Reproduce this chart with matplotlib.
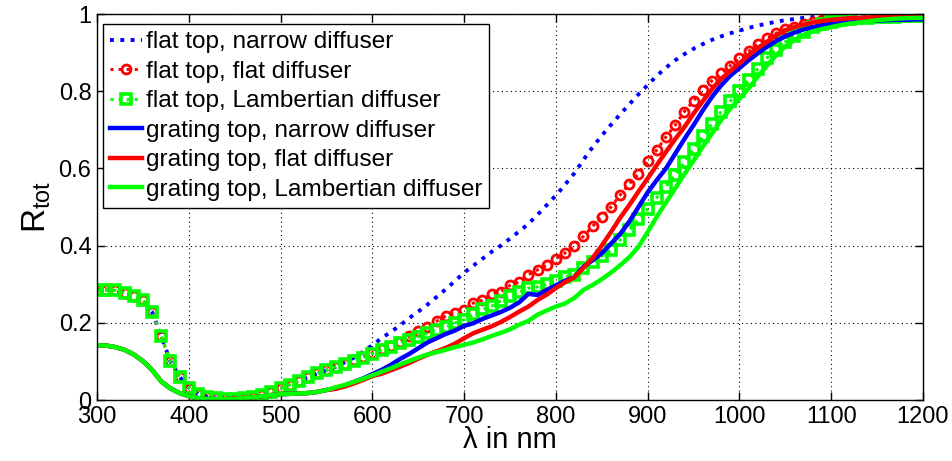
import numpy as np
import matplotlib
matplotlib.use("Agg")
import matplotlib.pyplot as plt

plt.rcParams["font.family"] = ["Liberation Sans", "DejaVu Sans"]

# wavelength grid (nm)
wavelength = np.arange(300, 1201, 10)

# flat top curves (identical below ~550 nm)
flat_common = [0.285, 0.285, 0.284, 0.278, 0.270, 0.258, 0.228, 0.165, 0.100, 0.060,
               0.032, 0.016, 0.008, 0.004, 0.002, 0.003, 0.005, 0.008, 0.013, 0.022,
               0.030, 0.040, 0.050, 0.059, 0.069, 0.077]

flat_narrow = flat_common + [
    0.086, 0.098, 0.110, 0.125, 0.142, 0.160, 0.176, 0.193, 0.212, 0.229,
    0.247, 0.267, 0.287, 0.308, 0.330, 0.348, 0.366, 0.384, 0.400, 0.418,
    0.437, 0.456, 0.480, 0.505, 0.530, 0.558, 0.587, 0.622, 0.655, 0.685,
    0.713, 0.740, 0.766, 0.792, 0.816, 0.840, 0.861, 0.880, 0.896, 0.910,
    0.922, 0.933, 0.942, 0.950, 0.957, 0.964, 0.970, 0.975, 0.980, 0.984,
    0.987, 0.990, 0.992, 0.994, 0.995, 0.996, 0.997, 0.997, 0.998, 0.998,
    0.998, 0.999, 0.999, 0.999, 0.999]

flat_flat = flat_common + [
    0.086, 0.094, 0.103, 0.112, 0.122, 0.131, 0.140, 0.150, 0.165, 0.180,
    0.189, 0.204, 0.218, 0.226, 0.234, 0.251, 0.259, 0.275, 0.281, 0.297,
    0.306, 0.325, 0.337, 0.349, 0.366, 0.381, 0.398, 0.424, 0.450, 0.475,
    0.500, 0.531, 0.560, 0.586, 0.618, 0.648, 0.682, 0.712, 0.747, 0.775,
    0.803, 0.827, 0.847, 0.866, 0.886, 0.903, 0.922, 0.937, 0.950, 0.960,
    0.967, 0.975, 0.980, 0.984, 0.988, 0.990, 0.991, 0.992, 0.993, 0.994,
    0.994, 0.995, 0.995, 0.995, 0.995]

flat_lamb = flat_common + [
    0.086, 0.093, 0.102, 0.110, 0.120, 0.129, 0.138, 0.147, 0.156, 0.164,
    0.173, 0.181, 0.190, 0.199, 0.208, 0.222, 0.235, 0.243, 0.257, 0.269,
    0.279, 0.290, 0.293, 0.300, 0.308, 0.318, 0.325, 0.342, 0.358, 0.373,
    0.388, 0.414, 0.440, 0.468, 0.495, 0.524, 0.553, 0.583, 0.616, 0.650,
    0.683, 0.716, 0.747, 0.774, 0.801, 0.829, 0.857, 0.886, 0.907, 0.928,
    0.943, 0.954, 0.966, 0.975, 0.980, 0.984, 0.987, 0.989, 0.990, 0.991,
    0.992, 0.993, 0.994, 0.995, 0.995]

# grating top curves (identical below ~550 nm)
grating_common = [0.142, 0.141, 0.137, 0.130, 0.118, 0.101, 0.078, 0.048, 0.030, 0.018,
                  0.010, 0.005, 0.003, 0.002, 0.002, 0.003, 0.005, 0.007, 0.010, 0.013,
                  0.015, 0.016, 0.017, 0.018, 0.021, 0.026]

grating_narrow = grating_common + [
    0.030, 0.038, 0.047, 0.056, 0.067, 0.078, 0.091, 0.106, 0.119, 0.134,
    0.149, 0.160, 0.171, 0.180, 0.192, 0.199, 0.210, 0.219, 0.228, 0.239,
    0.253, 0.275, 0.272, 0.285, 0.297, 0.309, 0.318, 0.345, 0.362, 0.380,
    0.405, 0.430, 0.462, 0.500, 0.538, 0.570, 0.600, 0.638, 0.676, 0.712,
    0.750, 0.785, 0.815, 0.840, 0.860, 0.880, 0.898, 0.915, 0.930, 0.942,
    0.952, 0.960, 0.966, 0.971, 0.975, 0.977, 0.979, 0.981, 0.982, 0.983,
    0.984, 0.985, 0.985, 0.986, 0.986]

grating_flat = grating_common + [
    0.029, 0.035, 0.043, 0.052, 0.062, 0.068, 0.077, 0.086, 0.096, 0.107,
    0.117, 0.126, 0.135, 0.146, 0.160, 0.173, 0.182, 0.191, 0.202, 0.215,
    0.229, 0.242, 0.259, 0.273, 0.290, 0.305, 0.318, 0.342, 0.368, 0.400,
    0.435, 0.472, 0.505, 0.540, 0.574, 0.609, 0.643, 0.676, 0.707, 0.742,
    0.774, 0.805, 0.832, 0.852, 0.872, 0.893, 0.912, 0.928, 0.945, 0.958,
    0.966, 0.973, 0.978, 0.982, 0.985, 0.987, 0.989, 0.990, 0.991, 0.992,
    0.992, 0.993, 0.993, 0.993, 0.993]

grating_lamb = grating_common + [
    0.033, 0.039, 0.047, 0.055, 0.064, 0.073, 0.082, 0.092, 0.101, 0.110,
    0.118, 0.124, 0.130, 0.137, 0.143, 0.149, 0.157, 0.166, 0.174, 0.183,
    0.195, 0.205, 0.221, 0.232, 0.242, 0.250, 0.264, 0.285, 0.298, 0.313,
    0.330, 0.349, 0.370, 0.397, 0.435, 0.475, 0.512, 0.548, 0.585, 0.620,
    0.656, 0.690, 0.725, 0.755, 0.780, 0.807, 0.838, 0.866, 0.893, 0.916,
    0.933, 0.946, 0.955, 0.961, 0.966, 0.971, 0.975, 0.978, 0.981, 0.984,
    0.986, 0.988, 0.989, 0.990, 0.990]

labels = ["flat top, narrow diffuser", "flat top, flat diffuser",
          "flat top, Lambertian diffuser", "grating top, narrow diffuser",
          "grating top, flat diffuser", "grating top, Lambertian diffuser"]

fig = plt.figure(figsize=(9.52, 4.61), dpi=100)
ax = fig.add_axes([0.1019, 0.1323, 0.8676, 0.8373])

ax.plot(wavelength, flat_narrow, ":", color="b", lw=2.8, label=labels[0])
ax.plot(wavelength, flat_flat, ":", color="r", lw=2.2, marker="o", ms=6.5,
        mfc="none", mew=2.0, label=labels[1])
ax.plot(wavelength, flat_lamb, ":", color="#00ff00", lw=2.2, marker="s", ms=7.5,
        mfc="none", mew=2.6, label=labels[2])
ax.plot(wavelength, grating_narrow, "-", color="b", lw=3.2, label=labels[3])
ax.plot(wavelength, grating_flat, "-", color="r", lw=3.2, label=labels[4])
ax.plot(wavelength, grating_lamb, "-", color="#00ff00", lw=3.2, label=labels[5])

ax.set_xlim(300, 1200)
ax.set_ylim(0, 1)
ax.set_xticks(range(300, 1201, 100))
ax.set_yticks([0, 0.2, 0.4, 0.6, 0.8, 1])
ax.set_yticklabels(["0", "0.2", "0.4", "0.6", "0.8", "1"])
ax.tick_params(direction="in", length=6, width=1, labelsize=17,
               top=True, right=True, pad=4)
ax.grid(True, color="k", linestyle=(0, (1, 3)), linewidth=0.8)
for sp in ax.spines.values():
    sp.set_linewidth(1.0)

ax.set_xlabel("\u03bb in nm", fontsize=21, labelpad=-1)
ax.set_ylabel(r"R$_\mathregular{tot}$", fontsize=24, labelpad=4)

leg = ax.legend(loc="upper left", bbox_to_anchor=(0.007, 0.974), borderaxespad=0,
                fontsize=17.6, numpoints=1, handlelength=1.3, handletextpad=0.15,
                labelspacing=0.30, borderpad=0.3, fancybox=False, framealpha=1)
leg.get_frame().set_edgecolor("k")
leg.get_frame().set_linewidth(1.0)

fig.savefig("out.png", dpi=100)
